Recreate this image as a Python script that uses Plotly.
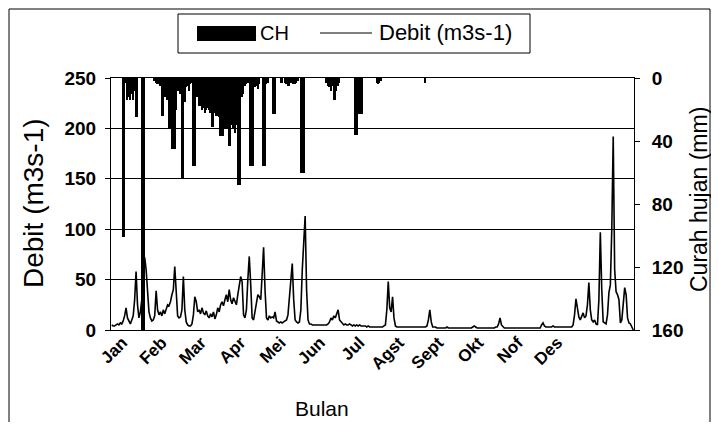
import plotly.graph_objects as go

months = ["Jan", "Feb", "Mar", "Apr", "Mei", "Jun", "Jul", "Agst", "Sept", "Okt", "Nof", "Des"]
month_tick_day = [8.5, 36, 63.5, 91, 119, 146.5, 174, 201.5, 229, 257, 284.5, 312]

debit_jan = [5, 4, 4, 5, 6, 5, 7, 6, 9, 14, 22, 12, 9, 6, 10, 14, 30, 58, 25, 12, 18, 30, 55, 72, 60, 35, 18, 12, 9, 10, 14]
debit_feb = [39, 20, 15, 18, 14, 20, 16, 22, 25, 24, 28, 35, 40, 63, 30, 14, 12, 13, 20, 53, 20, 8, 5, 4, 4, 6, 15, 33]
debit_mar = [28, 18, 20, 16, 22, 17, 15, 19, 14, 12, 16, 13, 18, 11, 15, 22, 18, 25, 28, 24, 30, 35, 28, 40, 30, 26, 32, 28, 25, 35, 45]
debit_apr = [53, 48, 15, 12, 20, 50, 73, 45, 12, 10, 18, 30, 35, 33, 30, 55, 82, 40, 12, 10, 14, 12, 13, 12, 18, 9, 8, 7, 8, 7]
debit_mei = [8, 9, 10, 15, 30, 45, 66, 30, 10, 8, 7, 8, 20, 60, 90, 113, 40, 10, 6, 6, 5, 5, 5, 5, 5, 5, 5, 5, 5, 5, 5]
debit_jun = [6, 8, 12, 10, 14, 12, 16, 20, 10, 8, 6, 5, 6, 5, 5, 6, 5, 4, 5, 4, 5, 4, 5, 4, 4, 4, 4, 3, 4, 3]
debit_jul = [3, 3, 3, 3, 3, 3, 3, 3, 3, 4, 5, 20, 48, 22, 18, 33, 12, 4, 3, 3, 3, 3, 3, 3, 3, 3, 3, 3, 3, 3, 3]
debit_agst = [3, 3, 3, 3, 3, 3, 3, 3, 4, 10, 20, 8, 3, 3, 3, 2, 2, 2, 2, 2, 2, 2, 3, 2, 2, 2, 2, 2, 2, 2, 2]
debit_sept = [2, 2, 2, 2, 2, 2, 2, 2, 2, 3, 4, 3, 2, 2, 2, 2, 2, 2, 2, 2, 2, 2, 2, 2, 2, 3, 3, 6, 12, 5]
debit_okt = [3, 2, 2, 2, 2, 2, 2, 2, 2, 2, 2, 2, 2, 2, 2, 2, 2, 2, 2, 2, 2, 2, 2, 2, 2, 2, 2, 5, 7, 4, 3]
debit_nof = [3, 3, 3, 3, 4, 3, 3, 3, 3, 3, 3, 3, 3, 3, 3, 3, 3, 3, 5, 15, 31, 20, 13, 10, 13, 17, 12, 14, 25, 47]
debit_des = [20, 10, 8, 10, 6, 5, 30, 97, 40, 8, 7, 6, 15, 37, 45, 100, 192, 60, 38, 35, 30, 7, 10, 30, 42, 35, 12, 7, 6, 3, 0]

rain_day = [9, 10, 11, 12, 13, 14, 15, 16, 17, 18, 19, 22, 23, 24,
            31, 32, 33, 34, 35, 36, 37, 38, 39, 40, 41, 42, 43, 44, 45, 46, 47, 48, 49, 50, 51, 52, 53, 54, 55, 56, 57, 58, 59,
            61, 62, 63, 64, 65, 66, 67, 68, 69, 70, 71, 72, 73, 74, 75, 76, 77, 78, 79, 80, 81, 82, 83, 84, 85, 86, 87, 88, 89, 90, 91, 92, 93, 94, 95, 96,
            98, 99, 100, 101, 102, 103, 104, 107, 108, 109, 110, 114, 115, 119, 120,
            122, 123, 124, 125, 126, 127, 128, 129, 130, 131, 133, 134, 135,
            151, 152, 153, 154, 155, 156, 157, 158, 159, 160,
            171, 172, 173, 174, 175, 176, 186, 187, 188, 189, 220]
rain_mm = [101, 101, 3, 14, 12, 14, 10, 14, 8, 25, 25, 160, 160, 160,
           2, 3, 4, 4, 5, 24, 24, 12, 10, 14, 32, 32, 45, 45, 45, 20, 8, 8, 10, 64, 64, 15, 6, 5, 8, 4, 3, 56, 56,
           12, 18, 18, 20, 19, 22, 20, 19, 20, 22, 31, 31, 22, 24, 24, 25, 37, 37, 37, 32, 30, 32, 43, 43, 30, 32, 35, 30, 68, 68, 68, 12, 10, 5, 4, 3,
           56, 56, 56, 6, 5, 7, 4, 56, 56, 4, 3, 23, 23, 3, 3,
           3, 4, 5, 5, 3, 2, 4, 4, 3, 2, 60, 60, 60,
           3, 5, 6, 8, 5, 14, 14, 8, 5, 3,
           36, 36, 20, 23, 23, 23, 3, 4, 3, 2, 3]

debit = (debit_jan + debit_feb + debit_mar + debit_apr + debit_mei + debit_jun +
         debit_jul + debit_agst + debit_sept + debit_okt + debit_nof + debit_des)
days = list(range(1, len(debit) + 1))

FONT = "Liberation Sans, Arial, sans-serif"
OFF = 8  # page body margin: figure is drawn 8 px right/down in the window
WL, WR, WT, WB = 111, 634, 78, 330   # plot area in window pixels
L, R, T, B = WL - OFF, WR - OFF, WT - OFF, WB - OFF
W, H = 719 - 2 * OFF, 430 - 2 * OFF


def px(x):
    return (x - WL) / (WR - WL)


def py(y):
    return (WB - y) / (WB - WT)


fig = go.Figure()
fig.add_trace(go.Bar(x=rain_day, y=rain_mm, yaxis="y2", width=1.1,
                     marker=dict(color="black", line=dict(width=0)),
                     name="CH", showlegend=False))
fig.add_trace(go.Scatter(x=days, y=debit, mode="lines",
                         line=dict(color="black", width=1.6),
                         name="Debit (m3s-1)", showlegend=False))

fig.update_layout(
    template="none",
    width=W, height=H,
    margin=dict(l=L, r=W - R, t=T, b=H - B, autoexpand=False),
    paper_bgcolor="white", plot_bgcolor="white",
    font=dict(family=FONT, color="black"),
    bargap=0,
    xaxis=dict(range=[0.5, 365.5], tickvals=month_tick_day, ticktext=months,
               tickangle=-45, tickfont=dict(size=17, weight="bold"), showgrid=False,
               showline=True, linecolor="black", linewidth=1, mirror=True,
               ticks="", ticklabelstandoff=-5, zeroline=False, automargin=False),
    yaxis=dict(range=[0, 250], tickvals=[0, 50, 100, 150, 200, 250],
               showgrid=True, gridcolor="black", gridwidth=1,
               showline=True, linecolor="black", linewidth=1,
               ticks="outside", ticklen=5, tickcolor="black",
               ticklabelstandoff=5, automargin=False,
               tickfont=dict(size=19, weight="bold"), zeroline=False),
    yaxis2=dict(overlaying="y", side="right", range=[160, 0],
                tickvals=[0, 40, 80, 120, 160], showgrid=False,
                showline=True, linecolor="black", linewidth=1,
                ticks="outside", ticklen=5, tickcolor="black",
                ticklabelstandoff=8, automargin=False,
                tickfont=dict(size=19, weight="bold"), zeroline=False),
    showlegend=False,
)

annotations = [
    dict(text="Debit (m3s-1)", x=px(33), y=py(203), textangle=-90, font=dict(size=28)),
    dict(text="Curah hujan (mm)", x=px(699), y=py(200), textangle=-90, font=dict(size=23)),
    dict(text="Bulan", x=px(322), y=py(408), font=dict(size=21)),
    dict(text="CH", x=px(258), y=py(33), xanchor="left", font=dict(size=20)),
    dict(text="Debit (m3s-1)", x=px(377), y=py(33), xanchor="left", font=dict(size=22)),
]
for a in annotations:
    a.update(xref="paper", yref="paper", showarrow=False)
    a.setdefault("xanchor", "center")
    a.setdefault("yanchor", "middle")
fig.update_layout(annotations=annotations)

shapes = [
    dict(type="rect", x0=px(9), x1=px(710), y0=py(445), y1=py(9),
         line=dict(color="black", width=1)),
    dict(type="rect", x0=px(178), x1=px(530), y0=py(53), y1=py(14),
         line=dict(color="black", width=1), fillcolor="white"),
    dict(type="rect", x0=px(197), x1=px(256), y0=py(41), y1=py(26),
         line=dict(width=0), fillcolor="black"),
    dict(type="line", x0=px(320), x1=px(372), y0=py(33), y1=py(33),
         line=dict(color="black", width=1.2)),
]
for s in shapes:
    s.update(xref="paper", yref="paper", layer="above")
fig.update_layout(shapes=shapes)

fig.write_html("out.html")
